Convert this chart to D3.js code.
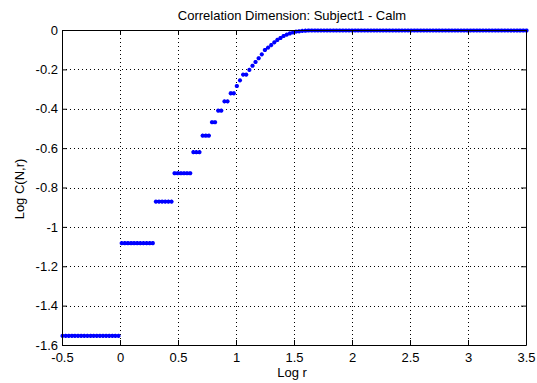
<!DOCTYPE html>
<html>
<head>
<meta charset="utf-8">
<script src="https://cdn.jsdelivr.net/npm/d3@7"></script>
<style>
  html, body { margin: 0; padding: 0; background: #fff; }
  svg { display: block; }
  text { font-family: "Liberation Sans", Arial, Helvetica, sans-serif; fill: #000; }
</style>
</head>
<body>
<svg id="chart" width="537" height="383"></svg>
<script>
// Log r sample points
const logR = [
  -0.500, -0.473, -0.446, -0.419, -0.393, -0.366, -0.339, -0.312, -0.285, -0.258,
  -0.232, -0.205, -0.178, -0.151, -0.124, -0.097, -0.070, -0.044, -0.017,  0.010,
   0.037,  0.064,  0.091,  0.117,  0.144,  0.171,  0.198,  0.225,  0.252,  0.279,
   0.305,  0.332,  0.359,  0.386,  0.413,  0.440,  0.466,  0.493,  0.520,  0.547,
   0.574,  0.601,  0.628,  0.654,  0.681,  0.708,  0.735,  0.762,  0.789,  0.815,
   0.842,  0.869,  0.896,  0.923,  0.950,  0.977,  1.003,  1.030,  1.057,  1.084,
   1.111,  1.138,  1.164,  1.191,  1.218,  1.245,  1.272,  1.299,  1.326,  1.352,
   1.379,  1.406,  1.433,  1.460,  1.487,  1.513,  1.540,  1.567,  1.594,  1.621,
   1.648,  1.675,  1.701,  1.728,  1.755,  1.782,  1.809,  1.836,  1.862,  1.889,
   1.916,  1.943,  1.970,  1.997,  2.024,  2.050,  2.077,  2.104,  2.131,  2.158,
   2.185,  2.211,  2.238,  2.265,  2.292,  2.319,  2.346,  2.373,  2.399,  2.426,
   2.453,  2.480,  2.507,  2.534,  2.560,  2.587,  2.614,  2.641,  2.668,  2.695,
   2.722,  2.748,  2.775,  2.802,  2.829,  2.856,  2.883,  2.909,  2.936,  2.963,
   2.990,  3.017,  3.044,  3.071,  3.097,  3.124,  3.151,  3.178,  3.205,  3.232,
   3.258,  3.285,  3.312,  3.339,  3.366,  3.393,  3.420,  3.446,  3.473,  3.500
];

// Log C(N,r) at each sample point
const logC = [
  -1.551, -1.551, -1.551, -1.551, -1.551, -1.551, -1.551, -1.551, -1.551, -1.551,
  -1.551, -1.551, -1.551, -1.551, -1.551, -1.551, -1.551, -1.551, -1.551, -1.080,
  -1.080, -1.080, -1.080, -1.080, -1.080, -1.080, -1.080, -1.080, -1.080, -1.080,
  -0.869, -0.869, -0.869, -0.869, -0.869, -0.869, -0.725, -0.725, -0.725, -0.725,
  -0.725, -0.725, -0.618, -0.618, -0.618, -0.534, -0.534, -0.534, -0.466, -0.466,
  -0.407, -0.407, -0.360, -0.360, -0.319, -0.319, -0.282, -0.253, -0.224, -0.224,
  -0.200, -0.179, -0.160, -0.141, -0.121, -0.099, -0.087, -0.074, -0.060, -0.048,
  -0.038, -0.028, -0.021, -0.015, -0.010, -0.006, -0.004, -0.002, -0.001,  0,
   0,      0,      0,      0,      0,      0,      0,      0,      0,      0,
   0,      0,      0,      0,      0,      0,      0,      0,      0,      0,
   0,      0,      0,      0,      0,      0,      0,      0,      0,      0,
   0,      0,      0,      0,      0,      0,      0,      0,      0,      0,
   0,      0,      0,      0,      0,      0,      0,      0,      0,      0,
   0,      0,      0,      0,      0,      0,      0,      0,      0,      0,
   0,      0,      0,      0,      0,      0,      0,      0,      0,      0
];

const xTicks = [-0.5, 0, 0.5, 1, 1.5, 2, 2.5, 3, 3.5];
const xTickLabels = ["-0.5", "0", "0.5", "1", "1.5", "2", "2.5", "3", "3.5"];
const yTicks = [-1.6, -1.4, -1.2, -1, -0.8, -0.6, -0.4, -0.2, 0];
const yTickLabels = ["-1.6", "-1.4", "-1.2", "-1", "-0.8", "-0.6", "-0.4", "-0.2", "0"];

const titleText = "Correlation Dimension: Subject1 - Calm";
const xLabelText = "Log r";
const yLabelText = "Log C(N,r)";

const svg = d3.select("#chart");
const plot = { left: 62, right: 526, top: 30, bottom: 345 };

const x = d3.scaleLinear().domain([-0.5, 3.5]).range([plot.left, plot.right]);
const y = d3.scaleLinear().domain([-1.6, 0]).range([plot.bottom, plot.top]);

// dotted grid
const grid = svg.append("g")
  .attr("stroke", "#000")
  .attr("stroke-width", 1)
  .attr("stroke-dasharray", "1,3")
  .attr("shape-rendering", "crispEdges");
grid.selectAll("line.gx").data(xTicks.slice(1, -1)).join("line")
  .attr("x1", d => x(d) + 0.5).attr("x2", d => x(d) + 0.5)
  .attr("y1", plot.top).attr("y2", plot.bottom);
grid.selectAll("line.gy").data(yTicks.slice(1, -1)).join("line")
  .attr("y1", d => y(d) + 0.5).attr("y2", d => y(d) + 0.5)
  .attr("x1", plot.left).attr("x2", plot.right);

// data markers (asterisks)
const r = 2.1;
const pts = logR.map((v, i) => [x(v) + 0.5, y(logC[i]) + 0.5]);
svg.append("path")
  .attr("fill", "none")
  .attr("stroke", "#0000ff")
  .attr("stroke-width", 1.3)
  .attr("d", pts.map(([px, py]) =>
    `M${px - r},${py}H${px + r}M${px},${py - r}V${py + r}` +
    `M${px - r * 0.7},${py - r * 0.7}L${px + r * 0.7},${py + r * 0.7}` +
    `M${px - r * 0.7},${py + r * 0.7}L${px + r * 0.7},${py - r * 0.7}`
  ).join(""));

// axes with inward ticks
const tick = 5;
svg.append("g").attr("transform", `translate(0,${plot.bottom})`)
  .call(d3.axisBottom(x).tickValues(xTicks).tickFormat((d, i) => xTickLabels[i])
    .tickSizeInner(-tick).tickSizeOuter(0).tickPadding(8));
svg.append("g").attr("transform", `translate(${plot.left},0)`)
  .call(d3.axisLeft(y).tickValues(yTicks).tickFormat((d, i) => yTickLabels[i])
    .tickSizeInner(-tick).tickSizeOuter(0).tickPadding(4));
svg.append("g").attr("transform", `translate(0,${plot.top})`)
  .call(d3.axisTop(x).tickValues(xTicks).tickFormat("")
    .tickSizeInner(-tick).tickSizeOuter(0));
svg.append("g").attr("transform", `translate(${plot.right},0)`)
  .call(d3.axisRight(y).tickValues(yTicks).tickFormat("")
    .tickSizeInner(-tick).tickSizeOuter(0));

svg.selectAll(".tick text")
  .style("font-family", '"Liberation Sans", Arial, sans-serif')
  .style("font-size", "13px")
  .attr("fill", "#000");
svg.selectAll(".domain, .tick line").attr("stroke", "#000");

// titles
svg.append("text")
  .attr("x", 292).attr("y", 20)
  .attr("text-anchor", "middle")
  .style("font-size", "13px")
  .text(titleText);
svg.append("text")
  .attr("x", 292).attr("y", 377)
  .attr("text-anchor", "middle")
  .style("font-size", "13px")
  .text(xLabelText);
svg.append("text")
  .attr("transform", "translate(24,189) rotate(-90)")
  .attr("text-anchor", "middle")
  .style("font-size", "13px")
  .text(yLabelText);
</script>
</body>
</html>
